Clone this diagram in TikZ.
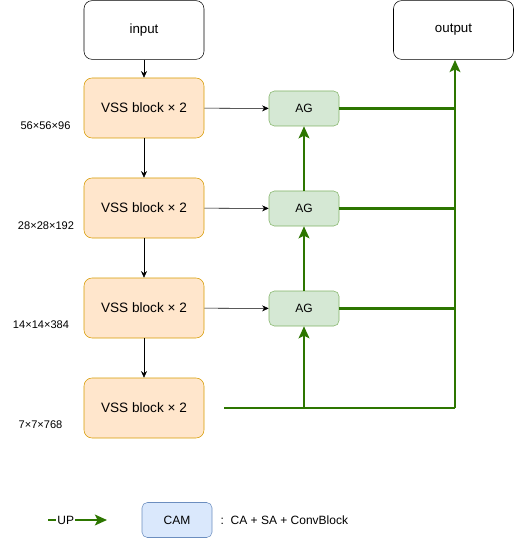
\documentclass[tikz,border=0pt]{standalone}
\usepackage{fontspec}
\setmainfont{Liberation Sans}
\usetikzlibrary{arrows.meta}
\definecolor{vssfill}{HTML}{FFE6CC}
\definecolor{vssline}{HTML}{D79B00}
\definecolor{agfill}{HTML}{D5E8D4}
\definecolor{agline}{HTML}{82B366}
\definecolor{camfill}{HTML}{DAE8FC}
\definecolor{camline}{HTML}{6C8EBF}
\definecolor{upgreen}{HTML}{2D7600}
\tikzset{
  io/.style={draw, rounded corners=6pt, minimum width=90pt, minimum height=44pt, font=\fontsize{10}{12}\selectfont},
  vss/.style={draw=vssline, fill=vssfill, rounded corners=6pt, minimum width=90pt, minimum height=45pt, font=\fontsize{10.2}{12}\selectfont},
  ag/.style={draw=agline, fill=agfill, rounded corners=4pt, minimum width=52.5pt, minimum height=26.25pt, font=\fontsize{9}{11}\selectfont},
  dim/.style={font=\fontsize{8.3}{10}\selectfont},
  flow/.style={-{Stealth[length=5pt,width=4.5pt]}, thin},
  up/.style={upgreen, line width=2.2pt, -{Stealth[length=9pt,width=8pt,inset=2pt]}},
  skip/.style={upgreen, line width=1.6pt}
}
\begin{document}
\begin{tikzpicture}[x=0.75pt, y=-0.75pt]
  \useasboundingbox (0,0) rectangle (514,538);
  \draw
    (144,30) node[io] (in){input}
    (453.5,30) node[io] (out){output}
    (144,108) node[vss] (v1){VSS block × 2}
    (144,208) node[vss] (v2){VSS block × 2}
    (144,308) node[vss] (v3){VSS block × 2}
    (144,408) node[vss] (v4){VSS block × 2}
    (304,108.5) node[ag] (a1){AG}
    (304,208.5) node[ag] (a2){AG}
    (304,308.5) node[ag] (a3){AG}
    (45.5,126) node[dim] (d1){56×56×96}
    (46,226) node[dim] (d2){28×28×192}
    (41,325) node[dim] (d3){14×14×384}
    (40.5,425) node[dim] (d4){7×7×768};
  \coordinate (s4) at (224,408);
  \coordinate (j4) at (304,408);
  \coordinate (c4) at (455,408);
  \coordinate (c1) at (455,108.5);
  \coordinate (c2) at (455,208.5);
  \coordinate (c3) at (455,308.5);
  \coordinate (o) at (455,60);
  % encoder path
  \begin{scope}[flow]
    \draw (in) to (v1);
    \draw (v1) to (v2);
    \draw (v2) to (v3);
    \draw (v3) to (v4);
    \draw (v1) to (a1);
    \draw (v2) to (a2);
    \draw (v3) to (a3);
  \end{scope}
  % upsampling path
  \begin{scope}[skip]
    \draw (s4) -- (c4);
    \draw (a1) -- (c1);
    \draw (a2) -- (c2);
    \draw (a3) -- (c3);
  \end{scope}
  \begin{scope}[up]
    \draw (j4) to (a3);
    \draw (a3) to (a2);
    \draw (a2) to (a1);
    \draw (c4) to (o);
  \end{scope}
  % legend
  \coordinate (ua) at (48,520);
  \coordinate (ub) at (107,520);
  \draw[up] (ua) -- node[pos=0.3, fill=white, inner sep=1pt, text=black, font=\fontsize{9}{11}\selectfont] (uplbl){UP} (ub);
  \node[draw=camline, fill=camfill, rounded corners=4pt, minimum width=52.5pt, minimum height=26.25pt, font=\fontsize{9}{11}\selectfont] (cam) at (177,520){CAM};
  \node[anchor=west, font=\fontsize{9}{11}\selectfont] (camtxt) at (216,520){:\ \ CA + SA + ConvBlock};
\end{tikzpicture}
\end{document}
